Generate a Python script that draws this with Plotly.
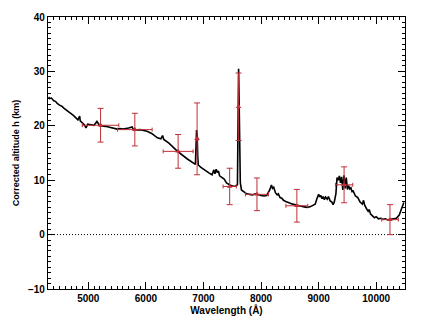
import plotly.graph_objects as go

# Corrected altitude spectrum (black curve)
wavelength = [4310, 4330, 4360, 4400, 4430, 4460, 4500, 4540, 4580, 4620, 4660, 4700,
              4740, 4780, 4820, 4850, 4860, 4900, 4930, 4960, 4990, 5050, 5100, 5150,
              5200, 5300, 5400, 5500, 5550, 5600, 5700, 5760, 5790, 5900, 6020, 6100,
              6200, 6260, 6290, 6310, 6400, 6540, 6720, 6830, 6860, 6870, 6880, 6890,
              6900, 6910, 6950, 7000, 7050, 7100, 7150, 7180, 7200, 7220, 7240, 7260,
              7280, 7320, 7360, 7400, 7440, 7480, 7520, 7560, 7590, 7600, 7610, 7620,
              7630, 7640, 7660, 7700, 7750, 7800, 7850, 7900, 7950, 8000, 8050, 8100,
              8150, 8180, 8200, 8220, 8250, 8280, 8300, 8330, 8360, 8390, 8430, 8470,
              8510, 8550, 8600, 8650, 8700, 8750, 8800, 8850, 8900, 8940, 8970, 9000,
              9020, 9040, 9060, 9080, 9100, 9120, 9150, 9170, 9200, 9230, 9250, 9270,
              9300, 9320, 9340, 9360, 9380, 9400, 9420, 9440, 9460, 9480, 9500, 9520,
              9540, 9560, 9580, 9600, 9640, 9680, 9720, 9760, 9780, 9800, 9830, 9860,
              9880, 9900, 9940, 9970, 10000, 10040, 10080, 10120, 10160, 10200, 10250,
              10300, 10350, 10400, 10440, 10480]
altitude = [25.3, 25.0, 25.1, 24.6, 24.5, 24.1, 23.8, 23.6, 23.2, 22.9, 22.6, 22.2,
            21.9, 21.5, 21.1, 21.8, 20.9, 20.5, 20.2, 19.6, 20.3, 20.2, 20.1, 20.8,
            20.0, 19.9, 19.6, 19.4, 19.5, 19.4, 19.6, 19.8, 19.2, 19.3, 19.0, 18.6,
            17.8, 17.6, 18.2, 17.5, 16.8, 15.4, 13.9, 13.0, 12.9, 16.0, 19.2, 18.5,
            14.5, 12.8, 12.4, 12.0, 11.6, 11.3, 11.0, 11.9, 11.2, 12.0, 11.4, 11.7,
            10.8, 10.5, 10.2, 9.5, 9.2, 9.0, 8.9, 8.9, 9.2, 20.0, 30.5, 24.0,
            14.0, 9.5, 8.2, 7.9, 7.5, 7.4, 7.3, 7.5, 7.3, 7.2, 7.1, 7.2,
            8.2, 9.1, 8.5, 8.7, 7.7, 7.3, 7.5, 6.8, 6.7, 6.3, 6.1, 5.9,
            5.8, 5.6, 5.5, 5.3, 5.2, 5.1, 5.0, 5.1, 5.3, 5.6, 6.6, 7.4,
            6.9, 7.2, 6.6, 7.0, 6.4, 6.9, 6.5, 7.0, 6.2, 6.0, 5.5, 5.9,
            7.5, 10.5, 10.0, 10.8, 9.5, 10.6, 8.2, 10.9, 8.5, 10.5, 8.3, 9.0,
            8.4, 8.6, 7.9, 8.0, 7.1, 6.8, 6.0, 5.6, 6.3, 5.4, 4.8, 4.3,
            4.6, 3.8, 3.4, 3.1, 3.3, 2.9, 3.0, 2.8, 2.9, 2.7, 2.8,
            2.9, 3.0, 3.6, 4.7, 5.9]

# Band measurements with uncertainties (red)
band_wl = [5213, 5808, 6560, 6889, 7455, 7610, 7929, 8622, 9442, 10239]
band_wl_err = [317, 300, 260, 15, 115, 10, 200, 190, 150, 145]
band_h = [20.1, 19.3, 15.3, 17.6, 8.85, 23.5, 7.4, 5.3, 9.15, 2.75]
band_h_err = [3.1, 3.0, 3.1, 6.6, 3.35, 6.2, 3.0, 3.0, 3.3, 2.75]

x_ticks = [5000, 6000, 7000, 8000, 9000, 10000]
x_labels = ["5000", "6000", "7000", "8000", "9000", "10000"]
y_ticks = [-10, 0, 10, 20, 30, 40]
y_labels = ["\u221210", "0", "10", "20", "30", "40"]

x_range = [4300, 10500]
y_range = [-10, 40]

red = "#bf2f36"
font_family = "Liberation Sans, Arial, sans-serif"
text_font = dict(family=font_family, color="#000000", weight="bold")

fig = go.Figure()

# zero-altitude reference line
fig.add_trace(go.Scatter(
    x=x_range, y=[0, 0], mode="lines",
    line=dict(color="black", width=1, dash="1px,2px"),
    hoverinfo="skip", showlegend=False))

fig.add_trace(go.Scatter(
    x=wavelength, y=altitude, mode="lines",
    line=dict(color="black", width=1.6),
    showlegend=False))

fig.add_trace(go.Scatter(
    x=band_wl, y=band_h, mode="markers",
    marker=dict(symbol="triangle-up", size=5, color=red),
    error_x=dict(type="data", array=band_wl_err, color=red, thickness=1, width=2),
    error_y=dict(type="data", array=band_h_err, color=red, thickness=1, width=3),
    showlegend=False))

axis_common = dict(
    showgrid=False, zeroline=False,
    showline=True, linecolor="black", linewidth=1.2, mirror="allticks",
    ticks="inside", ticklen=7, tickwidth=1, tickcolor="black",
    tickfont=dict(size=10, **text_font),
)

fig.update_xaxes(
    range=x_range, tickvals=x_ticks, ticktext=x_labels,
    minor=dict(dtick=100, ticks="inside", ticklen=3, tickcolor="black", tick0=4300),
    title=dict(text="Wavelength (Å)", standoff=2, font=dict(size=10, **text_font)),
    **axis_common)
fig.update_yaxes(
    range=y_range, tickvals=y_ticks, ticktext=y_labels,
    minor=dict(dtick=1, ticks="inside", ticklen=3, tickcolor="black"),
    title=dict(text="Corrected altitude h (km)", standoff=6, font=dict(size=9, **text_font)),
    **axis_common)

fig.update_layout(
    width=425, height=326,
    margin=dict(l=48, r=20, t=11, b=37),
    paper_bgcolor="white", plot_bgcolor="white",
)

fig.write_html("out.html")
